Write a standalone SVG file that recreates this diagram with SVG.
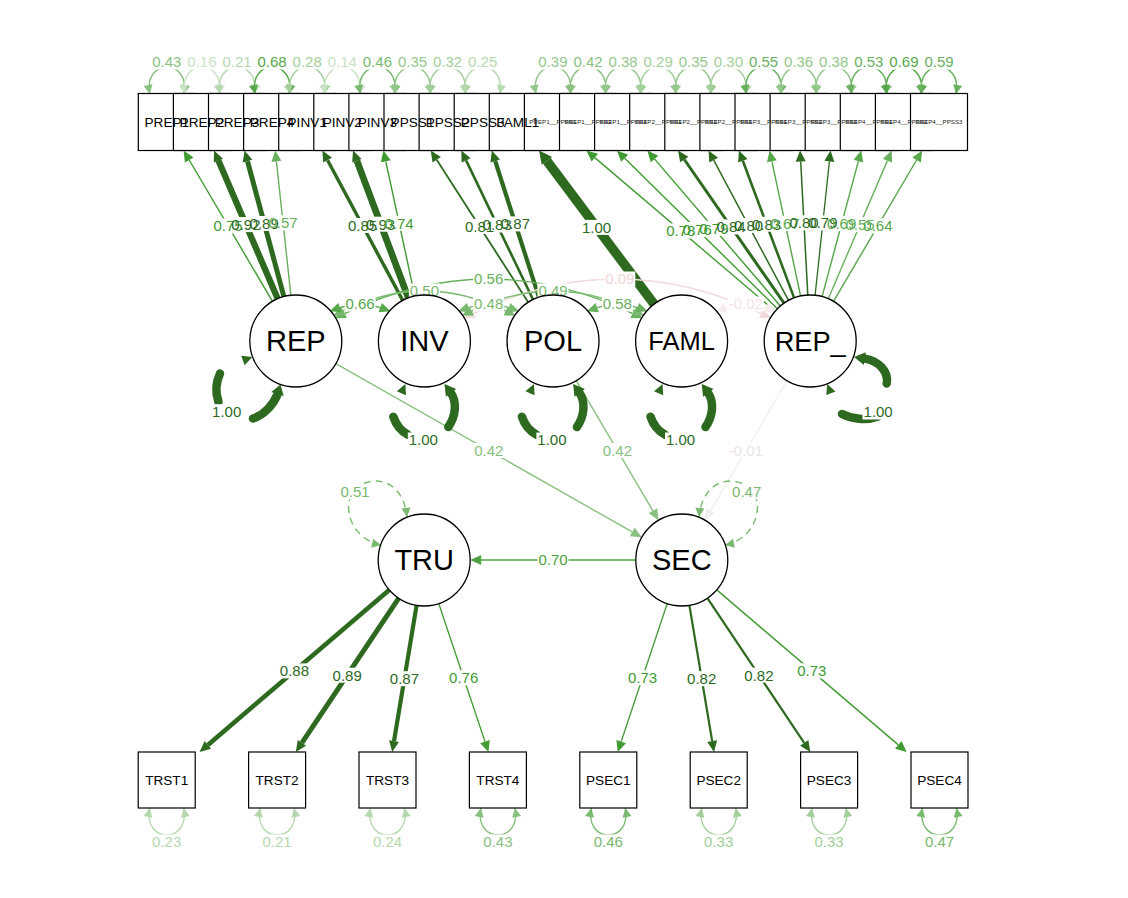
<svg xmlns="http://www.w3.org/2000/svg" width="1128" height="898" viewBox="0 0 1128 898">
<defs>
<style>
text{font-family:"Liberation Sans",Arial,sans-serif}
.e{fill:none;stroke-linecap:butt;stroke-width:1.4}
.lp{fill:none;stroke-linecap:round;stroke-width:8.5;stroke:#2d6a1f}
.dl{fill:none;stroke-width:1.4;stroke-dasharray:7 5}
.el{font-size:15px;text-anchor:middle}
.bg{fill:#fff}
.box{fill:#fff;stroke:#000;stroke-width:1.2}
.lat{fill:#fff;stroke:#000;stroke-width:1.3}
.ml{font-size:13.6px;text-anchor:middle;fill:#000}
.ms{font-size:6.2px;text-anchor:middle;fill:#222}
.ll{font-size:29px;text-anchor:middle;fill:#000}
.sD{stroke:#2d6a1f}.s79{stroke:#409b32}.s70{stroke:#4ea341}.s67{stroke:#55a749}.s56{stroke:#69b05e}.s49{stroke:#79b96f}.s42{stroke:#88c17f}.s37{stroke:#94c78c}.s30{stroke:#a3cf9a}.s23{stroke:#b5d8ae}.s15{stroke:#c9e3c4}.sp9{stroke:#f2dada}.sp2{stroke:#f6ecec}.sp1{stroke:#f3efef}
.fD{fill:#2d6a1f}.f79{fill:#409b32}.f70{fill:#4ea341}.f67{fill:#55a749}.f56{fill:#69b05e}.f49{fill:#79b96f}.f42{fill:#88c17f}.f37{fill:#94c78c}.f30{fill:#a3cf9a}.f23{fill:#b5d8ae}.f15{fill:#c9e3c4}.fp9{fill:#efd6d6}.fp2{fill:#f3e4e4}.fp1{fill:#ebe4e4}
</style>
<marker id="bD" markerUnits="userSpaceOnUse" markerWidth="12" markerHeight="10" refX="0" refY="5" orient="auto-start-reverse" overflow="visible"><path d="M0,0L11,5L0,10z" fill="#2d6a1f"/></marker>
<marker id="bDL" markerUnits="userSpaceOnUse" markerWidth="14" markerHeight="13" refX="0" refY="6.5" orient="auto-start-reverse" overflow="visible"><path d="M0,0L13,6.5L0,13z" fill="#2d6a1f"/></marker>
<marker id="b79" markerUnits="userSpaceOnUse" markerWidth="12" markerHeight="10" refX="0" refY="5" orient="auto-start-reverse" overflow="visible"><path d="M0,0L11,5L0,10z" fill="#409b32"/></marker>
<marker id="b70" markerUnits="userSpaceOnUse" markerWidth="12" markerHeight="10" refX="0" refY="5" orient="auto-start-reverse" overflow="visible"><path d="M0,0L11,5L0,10z" fill="#4ea341"/></marker>
<marker id="b67" markerUnits="userSpaceOnUse" markerWidth="12" markerHeight="10" refX="0" refY="5" orient="auto-start-reverse" overflow="visible"><path d="M0,0L11,5L0,10z" fill="#55a749"/></marker>
<marker id="b56" markerUnits="userSpaceOnUse" markerWidth="12" markerHeight="10" refX="0" refY="5" orient="auto-start-reverse" overflow="visible"><path d="M0,0L11,5L0,10z" fill="#69b05e"/></marker>
<marker id="b49" markerUnits="userSpaceOnUse" markerWidth="12" markerHeight="10" refX="0" refY="5" orient="auto-start-reverse" overflow="visible"><path d="M0,0L11,5L0,10z" fill="#79b96f"/></marker>
<marker id="b42" markerUnits="userSpaceOnUse" markerWidth="12" markerHeight="10" refX="0" refY="5" orient="auto-start-reverse" overflow="visible"><path d="M0,0L11,5L0,10z" fill="#88c17f"/></marker>
<marker id="bp9" markerUnits="userSpaceOnUse" markerWidth="12" markerHeight="10" refX="0" refY="5" orient="auto-start-reverse" overflow="visible"><path d="M0,0L11,5L0,10z" fill="#f2dada"/></marker>
<marker id="bp2" markerUnits="userSpaceOnUse" markerWidth="12" markerHeight="10" refX="0" refY="5" orient="auto-start-reverse" overflow="visible"><path d="M0,0L11,5L0,10z" fill="#f6ecec"/></marker>
<marker id="bp1" markerUnits="userSpaceOnUse" markerWidth="12" markerHeight="10" refX="0" refY="5" orient="auto-start-reverse" overflow="visible"><path d="M0,0L11,5L0,10z" fill="#f3efef"/></marker>
<marker id="t67" markerUnits="userSpaceOnUse" markerWidth="10" markerHeight="9" refX="9" refY="4.5" orient="auto-start-reverse" overflow="visible"><path d="M0,0L9,4.5L0,9z" fill="#55a749"/></marker>
<marker id="t56" markerUnits="userSpaceOnUse" markerWidth="10" markerHeight="9" refX="9" refY="4.5" orient="auto-start-reverse" overflow="visible"><path d="M0,0L9,4.5L0,9z" fill="#69b05e"/></marker>
<marker id="t49" markerUnits="userSpaceOnUse" markerWidth="10" markerHeight="9" refX="9" refY="4.5" orient="auto-start-reverse" overflow="visible"><path d="M0,0L9,4.5L0,9z" fill="#79b96f"/></marker>
<marker id="t42" markerUnits="userSpaceOnUse" markerWidth="10" markerHeight="9" refX="9" refY="4.5" orient="auto-start-reverse" overflow="visible"><path d="M0,0L9,4.5L0,9z" fill="#88c17f"/></marker>
<marker id="t37" markerUnits="userSpaceOnUse" markerWidth="10" markerHeight="9" refX="9" refY="4.5" orient="auto-start-reverse" overflow="visible"><path d="M0,0L9,4.5L0,9z" fill="#94c78c"/></marker>
<marker id="t30" markerUnits="userSpaceOnUse" markerWidth="10" markerHeight="9" refX="9" refY="4.5" orient="auto-start-reverse" overflow="visible"><path d="M0,0L9,4.5L0,9z" fill="#a3cf9a"/></marker>
<marker id="t23" markerUnits="userSpaceOnUse" markerWidth="10" markerHeight="9" refX="9" refY="4.5" orient="auto-start-reverse" overflow="visible"><path d="M0,0L9,4.5L0,9z" fill="#b5d8ae"/></marker>
<marker id="t15" markerUnits="userSpaceOnUse" markerWidth="10" markerHeight="9" refX="9" refY="4.5" orient="auto-start-reverse" overflow="visible"><path d="M0,0L9,4.5L0,9z" fill="#c9e3c4"/></marker>
</defs>
<rect width="1128" height="898" fill="#fff"/>

<g id="connectors">
<path class="e s79" d="M272.5,301.4L189.2,160" marker-end="url(#b79)"/>
<path class="e sD" style="stroke-width:6.3" d="M277.7,298.7L218.4,160.6" marker-end="url(#bD)"/>
<path class="e sD" style="stroke-width:5" d="M283.9,296.6L247.5,161.1" marker-end="url(#bD)"/>
<path class="e s56" d="M290.9,295.3L276.4,161.4" marker-end="url(#b56)"/>
<path class="e sD" style="stroke-width:3.4" d="M402.7,300.4L327.6,160.2" marker-end="url(#bD)"/>
<path class="e sD" style="stroke-width:6.7" d="M408.3,297.9L356.9,160.8" marker-end="url(#bD)"/>
<path class="e s79" d="M414.8,296L385.8,161.3" marker-end="url(#b79)"/>
<path class="e sD" style="stroke-width:1.8" d="M528.2,302.3L436.7,159.8" marker-end="url(#bD)"/>
<path class="e sD" style="stroke-width:2.6" d="M533,299.5L466.1,160.4" marker-end="url(#bD)"/>
<path class="e sD" style="stroke-width:4.2" d="M538.9,297.2L495.2,161" marker-end="url(#bD)"/>
<path class="e sD" style="stroke-width:9.5" d="M654.1,304.2L546.9,160.9" marker-end="url(#bDL)"/>
<path class="e s79" d="M775.2,311.2L594.8,157.6" marker-end="url(#b79)"/>
<path class="e s79" d="M777.4,308.7L624.7,158.2" marker-end="url(#b79)"/>
<path class="e s79" d="M780.3,306L654.5,158.9" marker-end="url(#b79)"/>
<path class="e sD" style="stroke-width:3" d="M784,303.2L684.3,159.5" marker-end="url(#bD)"/>
<path class="e sD" style="stroke-width:1.5" d="M788.5,300.4L713.7,160.2" marker-end="url(#bD)"/>
<path class="e sD" style="stroke-width:2.6" d="M794.1,297.9L742.8,160.8" marker-end="url(#bD)"/>
<path class="e s67" d="M800.6,296L771.9,161.3" marker-end="url(#b67)"/>
<path class="e sD" style="stroke-width:1.5" d="M807.8,295.1L800.7,161.5" marker-end="url(#bD)"/>
<path class="e sD" style="stroke-width:1.3" d="M815.1,295.3L829.4,161.4" marker-end="url(#bD)"/>
<path class="e s67" d="M822.1,296.6L858.4,161.1" marker-end="url(#b67)"/>
<path class="e s56" d="M828.3,298.7L887.4,160.6" marker-end="url(#b56)"/>
<path class="e s67" d="M833.5,301.4L916.6,160" marker-end="url(#b67)"/>
<path class="e sD" style="stroke-width:4.6" d="M389.2,589.9L207.9,744.9" marker-end="url(#bD)"/>
<path class="e sD" style="stroke-width:5" d="M398.6,598.3L301.9,742.9" marker-end="url(#bD)"/>
<path class="e sD" style="stroke-width:4.2" d="M416.6,605.4L394,741.1" marker-end="url(#bD)"/>
<path class="e s79" d="M438.8,603.6L485,741.6" marker-end="url(#b79)"/>
<path class="e s79" d="M667.2,603.6L621.2,741.6" marker-end="url(#b79)"/>
<path class="e sD" style="stroke-width:2.2" d="M689.4,605.4L712.2,741.2" marker-end="url(#bD)"/>
<path class="e sD" style="stroke-width:2.2" d="M707.4,598.2L804.2,742.9" marker-end="url(#bD)"/>
<path class="e s79" d="M716.8,589.9L898.3,744.9" marker-end="url(#b79)"/>
<path class="e s42" d="M335.8,363.7L632.2,531.9" marker-end="url(#b42)"/>
<path class="e s42" d="M576.3,380.7L652.9,510.8" marker-end="url(#b42)"/>
<path class="e sp1" d="M787,380.7L710.6,510.8" marker-end="url(#bp1)"/>
<path class="e s70" style="stroke-width:1.5" d="M635.8,560L481.2,560" marker-end="url(#b70)"/>
<path class="e sp9" d="M473.4,313.5Q617.3,244.5 761.2,313.5" marker-start="url(#bp9)" marker-end="url(#bp9)"/>
<path class="e s56" d="M344.8,313.5Q488.7,244.5 632.6,313.5" marker-start="url(#b56)" marker-end="url(#b56)"/>
<path class="e s49" d="M343.1,311Q424.4,271 505.7,311" marker-start="url(#b49)" marker-end="url(#b49)"/>
<path class="e s49" d="M471.7,311Q553,271 634.3,311" marker-start="url(#b49)" marker-end="url(#b49)"/>
<path class="e s67" d="M340,307.6Q360.1,300.4 380.2,307.6" marker-start="url(#b67)" marker-end="url(#b67)"/>
<path class="e s49" d="M468.6,307.6Q488.7,300.4 508.8,307.6" marker-start="url(#b49)" marker-end="url(#b49)"/>
<path class="e s56" d="M597.2,307.6Q617.3,300.4 637.4,307.6" marker-start="url(#b56)" marker-end="url(#b56)"/>
<path class="e sp2" d="M725.8,307.6Q745.9,300.4 766,307.6" marker-start="url(#bp2)" marker-end="url(#bp2)"/>
<g id="var-REP">
<path class="lp" d="M220,373.5Q213.5,387.5 218.5,402"/>
<path class="lp" d="M253,418.5C264,415 273,405 277.5,394.5"/>
<polygon class="fD" points="252.3,357 244.6,365.2 241.2,355.8"/>
<polygon class="fD" points="280.5,384.5 283.7,396 271.3,392"/>
</g>
<g id="var-INV">
<path class="lp" d="M393.3,416.7Q397.5,429.5 408.3,435"/>
<path class="lp" d="M448.3,427C456,416 457,402 451,393"/>
<polygon class="fD" points="405.4,384 406,395.2 396.8,391.2"/>
<polygon class="fD" points="444.5,384 456.3,388.9 445.9,396.7"/>
</g>
<g id="var-POL" transform="translate(128.6,0)">
<path class="lp" d="M393.3,416.7Q397.5,429.5 408.3,435"/>
<path class="lp" d="M448.3,427C456,416 457,402 451,393"/>
<polygon class="fD" points="405.4,384 406,395.2 396.8,391.2"/>
<polygon class="fD" points="444.5,384 456.3,388.9 445.9,396.7"/>
</g>
<g id="var-FAML" transform="translate(257.2,0)">
<path class="lp" d="M393.3,416.7Q397.5,429.5 408.3,435"/>
<path class="lp" d="M448.3,427C456,416 457,402 451,393"/>
<polygon class="fD" points="405.4,384 406,395.2 396.8,391.2"/>
<polygon class="fD" points="444.5,384 456.3,388.9 445.9,396.7"/>
</g>
<g id="var-REP_">
<path class="lp" d="M842,414C852,419 866,421 878,416.5"/>
<path class="lp" d="M886.7,383.5C889,372 879,361 865,358.6"/>
<polygon class="fD" points="827.2,384 835.5,391.5 826.3,395.1"/>
<polygon class="fD" points="854,357 865.9,352.2 863.9,365"/>
</g>
<path class="dl s49" d="M381,545C345,538 338,492 365,483C385,476 404,488 407,517" marker-start="url(#t49)" marker-end="url(#t49)"/>
<path class="dl s49" d="M725,545C761,538 768,492 741,483C721,476 702,488 699,517" marker-start="url(#t49)" marker-end="url(#t49)"/>
<path class="e s42" d="M149.8,94C142.8,58 190.8,58 183.8,94" marker-start="url(#t42)" marker-end="url(#t42)"/>
<path class="e s15" d="M184.9,94C177.9,58 225.9,58 218.9,94" marker-start="url(#t15)" marker-end="url(#t15)"/>
<path class="e s23" d="M220,94C213,58 261,58 254,94" marker-start="url(#t23)" marker-end="url(#t23)"/>
<path class="e s67" d="M255.1,94C248.1,58 296.1,58 289.1,94" marker-start="url(#t67)" marker-end="url(#t67)"/>
<path class="e s30" d="M290.2,94C283.2,58 331.2,58 324.2,94" marker-start="url(#t30)" marker-end="url(#t30)"/>
<path class="e s15" d="M325.3,94C318.3,58 366.3,58 359.3,94" marker-start="url(#t15)" marker-end="url(#t15)"/>
<path class="e s49" d="M360.4,94C353.4,58 401.4,58 394.4,94" marker-start="url(#t49)" marker-end="url(#t49)"/>
<path class="e s37" d="M395.5,94C388.5,58 436.5,58 429.5,94" marker-start="url(#t37)" marker-end="url(#t37)"/>
<path class="e s30" d="M430.6,94C423.6,58 471.6,58 464.6,94" marker-start="url(#t30)" marker-end="url(#t30)"/>
<path class="e s23" d="M465.7,94C458.7,58 506.7,58 499.7,94" marker-start="url(#t23)" marker-end="url(#t23)"/>
<path class="e s37" d="M535.9,94C528.9,58 576.9,58 569.9,94" marker-start="url(#t37)" marker-end="url(#t37)"/>
<path class="e s42" d="M571,94C564,58 612,58 605,94" marker-start="url(#t42)" marker-end="url(#t42)"/>
<path class="e s37" d="M606.1,94C599.1,58 647.1,58 640.1,94" marker-start="url(#t37)" marker-end="url(#t37)"/>
<path class="e s30" d="M641.2,94C634.2,58 682.2,58 675.2,94" marker-start="url(#t30)" marker-end="url(#t30)"/>
<path class="e s37" d="M676.3,94C669.3,58 717.3,58 710.3,94" marker-start="url(#t37)" marker-end="url(#t37)"/>
<path class="e s30" d="M711.4,94C704.4,58 752.4,58 745.4,94" marker-start="url(#t30)" marker-end="url(#t30)"/>
<path class="e s56" d="M746.5,94C739.5,58 787.5,58 780.5,94" marker-start="url(#t56)" marker-end="url(#t56)"/>
<path class="e s37" d="M781.6,94C774.6,58 822.6,58 815.6,94" marker-start="url(#t37)" marker-end="url(#t37)"/>
<path class="e s37" d="M816.7,94C809.7,58 857.7,58 850.7,94" marker-start="url(#t37)" marker-end="url(#t37)"/>
<path class="e s56" d="M851.8,94C844.8,58 892.8,58 885.8,94" marker-start="url(#t56)" marker-end="url(#t56)"/>
<path class="e s67" d="M886.9,94C879.9,58 927.9,58 920.9,94" marker-start="url(#t67)" marker-end="url(#t67)"/>
<path class="e s56" d="M922,94C915,58 963,58 956,94" marker-start="url(#t56)" marker-end="url(#t56)"/>
<path class="e s23" d="M149.7,808C142.7,844 190.7,844 183.7,808" marker-start="url(#t23)" marker-end="url(#t23)"/>
<path class="e s23" d="M260.1,808C253.1,844 301.1,844 294.1,808" marker-start="url(#t23)" marker-end="url(#t23)"/>
<path class="e s23" d="M370.5,808C363.5,844 411.5,844 404.5,808" marker-start="url(#t23)" marker-end="url(#t23)"/>
<path class="e s42" d="M480.9,808C473.9,844 521.9,844 514.9,808" marker-start="url(#t42)" marker-end="url(#t42)"/>
<path class="e s49" d="M591.3,808C584.3,844 632.3,844 625.3,808" marker-start="url(#t49)" marker-end="url(#t49)"/>
<path class="e s30" d="M701.7,808C694.7,844 742.7,844 735.7,808" marker-start="url(#t30)" marker-end="url(#t30)"/>
<path class="e s30" d="M812.1,808C805.1,844 853.1,844 846.1,808" marker-start="url(#t30)" marker-end="url(#t30)"/>
<path class="e s49" d="M922.5,808C915.5,844 963.5,844 956.5,808" marker-start="url(#t49)" marker-end="url(#t49)"/>
</g>

<g id="edge-label-bg" class="bg">
<rect x="212.5" y="218.5" width="31" height="15"/><rect x="230.4" y="217.1" width="31" height="15"/><rect x="248.7" y="216" width="31" height="15"/><rect x="267.5" y="215.4" width="31" height="15"/>
<rect x="347.1" y="218" width="31" height="15"/><rect x="365.1" y="216.7" width="31" height="15"/><rect x="383.6" y="215.8" width="31" height="15"/>
<rect x="464" y="218.9" width="31" height="15"/><rect x="481.7" y="217.5" width="31" height="15"/><rect x="499.9" y="216.4" width="31" height="15"/>
<rect x="581.1" y="219.9" width="31" height="15"/>
<rect x="665.3" y="223.4" width="31" height="15"/><rect x="681.7" y="222.1" width="31" height="15"/><rect x="698.4" y="220.8" width="31" height="15"/><rect x="715.5" y="219.4" width="31" height="15"/><rect x="733" y="218" width="31" height="15"/><rect x="751.1" y="216.7" width="31" height="15"/><rect x="769.6" y="215.8" width="31" height="15"/><rect x="788.5" y="215.3" width="31" height="15"/><rect x="807.4" y="215.4" width="31" height="15"/><rect x="826.2" y="216.1" width="31" height="15"/><rect x="844.5" y="217.1" width="31" height="15"/><rect x="862.4" y="218.5" width="31" height="15"/>
<rect x="278.9" y="663.4" width="31" height="15"/><rect x="331.7" y="667.7" width="31" height="15"/><rect x="388.9" y="671.2" width="31" height="15"/><rect x="448.2" y="670.3" width="31" height="15"/><rect x="627" y="670.3" width="31" height="15"/><rect x="686.2" y="671.2" width="31" height="15"/><rect x="743.4" y="667.6" width="31" height="15"/><rect x="796.3" y="663.4" width="31" height="15"/>
<rect x="473.3" y="443" width="31" height="15"/><rect x="601.9" y="443" width="31" height="15"/><rect x="727.9" y="443" width="36" height="15"/><rect x="537.5" y="552.5" width="31" height="15"/>
<rect x="344.6" y="296.5" width="31" height="15"/><rect x="473.2" y="296.5" width="31" height="15"/><rect x="601.8" y="296.5" width="31" height="15"/><rect x="727.9" y="296.5" width="36" height="15"/>
<rect x="408.9" y="283.5" width="31" height="15"/><rect x="537.5" y="283.5" width="31" height="15"/><rect x="473.2" y="271.5" width="31" height="15"/><rect x="599.3" y="271.5" width="36" height="15"/>
<rect x="211.2" y="404.2" width="31" height="15"/><rect x="407.8" y="432.5" width="31" height="15"/><rect x="536.4" y="432.5" width="31" height="15"/><rect x="665" y="432.5" width="31" height="15"/><rect x="862.5" y="404.5" width="31" height="15"/>
<rect x="339.5" y="484.2" width="31" height="15"/><rect x="731.2" y="484.2" width="31" height="15"/>
<rect x="151.3" y="54.5" width="31" height="15"/><rect x="186.4" y="54.5" width="31" height="15"/><rect x="221.5" y="54.5" width="31" height="15"/><rect x="256.6" y="54.5" width="31" height="15"/><rect x="291.7" y="54.5" width="31" height="15"/><rect x="326.8" y="54.5" width="31" height="15"/><rect x="361.9" y="54.5" width="31" height="15"/><rect x="397" y="54.5" width="31" height="15"/><rect x="432.1" y="54.5" width="31" height="15"/><rect x="467.2" y="54.5" width="31" height="15"/>
<rect x="537.4" y="54.5" width="31" height="15"/><rect x="572.5" y="54.5" width="31" height="15"/><rect x="607.6" y="54.5" width="31" height="15"/><rect x="642.7" y="54.5" width="31" height="15"/><rect x="677.8" y="54.5" width="31" height="15"/><rect x="712.9" y="54.5" width="31" height="15"/><rect x="748" y="54.5" width="31" height="15"/><rect x="783.1" y="54.5" width="31" height="15"/><rect x="818.2" y="54.5" width="31" height="15"/><rect x="853.3" y="54.5" width="31" height="15"/><rect x="888.4" y="54.5" width="31" height="15"/><rect x="923.5" y="54.5" width="31" height="15"/>
<rect x="151.2" y="834.5" width="31" height="15"/><rect x="261.6" y="834.5" width="31" height="15"/><rect x="372" y="834.5" width="31" height="15"/><rect x="482.4" y="834.5" width="31" height="15"/><rect x="592.8" y="834.5" width="31" height="15"/><rect x="703.2" y="834.5" width="31" height="15"/><rect x="813.6" y="834.5" width="31" height="15"/><rect x="924" y="834.5" width="31" height="15"/>
</g>

<g id="edge-labels" class="el">
<text class="f79" x="228" y="231.4">0.75</text><text class="fD" x="245.9" y="230">0.92</text><text class="fD" x="264.2" y="228.9">0.89</text><text class="f56" x="283" y="228.3">0.57</text>
<text class="fD" x="362.6" y="230.9">0.85</text><text class="fD" x="380.6" y="229.6">0.93</text><text class="f79" x="399.1" y="228.7">0.74</text>
<text class="fD" x="479.5" y="231.8">0.81</text><text class="fD" x="497.2" y="230.4">0.83</text><text class="fD" x="515.4" y="229.3">0.87</text>
<text class="fD" x="596.6" y="232.8">1.00</text>
<text class="f79" x="680.8" y="236.3">0.78</text><text class="f79" x="697.2" y="235">0.76</text><text class="f79" x="713.9" y="233.7">0.79</text><text class="fD" x="731" y="232.3">0.84</text><text class="fD" x="748.5" y="230.9">0.80</text><text class="fD" x="766.6" y="229.6">0.83</text><text class="f67" x="785.1" y="228.7">0.67</text><text class="fD" x="804" y="228.2">0.80</text><text class="fD" x="822.9" y="228.3">0.79</text><text class="f67" x="841.7" y="229">0.69</text><text class="f56" x="860" y="230">0.55</text><text class="f67" x="877.9" y="231.4">0.64</text>
<text class="fD" x="294.4" y="676.3">0.88</text><text class="fD" x="347.2" y="680.6">0.89</text><text class="fD" x="404.4" y="684.1">0.87</text><text class="f79" x="463.7" y="683.2">0.76</text><text class="f79" x="642.5" y="683.2">0.73</text><text class="fD" x="701.7" y="684.1">0.82</text><text class="fD" x="758.9" y="680.5">0.82</text><text class="f79" x="811.8" y="676.3">0.73</text>
<text class="f42" x="488.8" y="455.9">0.42</text><text class="f42" x="617.4" y="455.9">0.42</text><text class="fp1" x="745.9" y="455.9">-0.01</text><text class="f70" x="553" y="565.4">0.70</text>
<text class="f67" x="360.1" y="309.4">0.66</text><text class="f49" x="488.7" y="309.4">0.48</text><text class="f56" x="617.3" y="309.4">0.58</text><text class="fp2" x="745.9" y="309.4">-0.02</text>
<text class="f49" x="424.4" y="296.4">0.50</text><text class="f49" x="553" y="296.4">0.49</text><text class="f56" x="488.7" y="284.4">0.56</text><text class="fp9" x="617.3" y="284.4">-0.09</text>
<text class="fD" x="226.7" y="417.1">1.00</text><text class="fD" x="423.3" y="445.4">1.00</text><text class="fD" x="551.9" y="445.4">1.00</text><text class="fD" x="680.5" y="445.4">1.00</text><text class="fD" x="878" y="417.4">1.00</text>
<text class="f49" x="355" y="497.1">0.51</text><text class="f49" x="746.7" y="497.1">0.47</text>
<text class="f42" x="166.8" y="67.4">0.43</text><text class="f15" x="201.9" y="67.4">0.16</text><text class="f23" x="237" y="67.4">0.21</text><text class="f67" x="272.1" y="67.4">0.68</text><text class="f30" x="307.2" y="67.4">0.28</text><text class="f15" x="342.3" y="67.4">0.14</text><text class="f49" x="377.4" y="67.4">0.46</text><text class="f37" x="412.5" y="67.4">0.35</text><text class="f30" x="447.6" y="67.4">0.32</text><text class="f23" x="482.7" y="67.4">0.25</text>
<text class="f37" x="552.9" y="67.4">0.39</text><text class="f42" x="588" y="67.4">0.42</text><text class="f37" x="623.1" y="67.4">0.38</text><text class="f30" x="658.2" y="67.4">0.29</text><text class="f37" x="693.3" y="67.4">0.35</text><text class="f30" x="728.4" y="67.4">0.30</text><text class="f56" x="763.5" y="67.4">0.55</text><text class="f37" x="798.6" y="67.4">0.36</text><text class="f37" x="833.7" y="67.4">0.38</text><text class="f56" x="868.8" y="67.4">0.53</text><text class="f67" x="903.9" y="67.4">0.69</text><text class="f56" x="939" y="67.4">0.59</text>
<text class="f23" x="166.7" y="847.4">0.23</text><text class="f23" x="277.1" y="847.4">0.21</text><text class="f23" x="387.5" y="847.4">0.24</text><text class="f42" x="497.9" y="847.4">0.43</text><text class="f49" x="608.3" y="847.4">0.46</text><text class="f30" x="718.7" y="847.4">0.33</text><text class="f30" x="829.1" y="847.4">0.33</text><text class="f49" x="939.5" y="847.4">0.47</text>
</g>

<g id="node-REP"><circle class="lat" cx="295.8" cy="341" r="46"/><text class="ll" x="295.8" y="351.4">REP</text></g>
<g id="node-INV"><circle class="lat" cx="424.4" cy="341" r="46"/><text class="ll" x="424.4" y="351.4">INV</text></g>
<g id="node-POL"><circle class="lat" cx="553" cy="341" r="46"/><text class="ll" x="553" y="351.4">POL</text></g>
<g id="node-FAML"><circle class="lat" cx="681.6" cy="341" r="46"/><text class="ll" style="font-size:25.5px" x="681.6" y="350.1">FAML</text></g>
<g id="node-REP_"><circle class="lat" cx="810.2" cy="341" r="46"/><text class="ll" style="font-size:27.2px" x="810.2" y="350.7">REP_</text></g>
<g id="node-TRU"><circle class="lat" cx="424.2" cy="560" r="46"/><text class="ll" x="424.2" y="570.4">TRU</text></g>
<g id="node-SEC"><circle class="lat" cx="681.8" cy="560" r="46"/><text class="ll" x="681.8" y="570.4">SEC</text></g>

<g id="node-PREP1"><rect class="box" x="138.3" y="93.5" width="57" height="57"/></g>
<g id="node-PREP2"><rect class="box" x="173.4" y="93.5" width="57" height="57"/></g>
<g id="node-PREP3"><rect class="box" x="208.5" y="93.5" width="57" height="57"/></g>
<g id="node-PREP4"><rect class="box" x="243.6" y="93.5" width="57" height="57"/></g>
<g id="node-PINV1"><rect class="box" x="278.7" y="93.5" width="57" height="57"/></g>
<g id="node-PINV2"><rect class="box" x="313.8" y="93.5" width="57" height="57"/></g>
<g id="node-PINV3"><rect class="box" x="348.9" y="93.5" width="57" height="57"/></g>
<g id="node-PPSS1"><rect class="box" x="384" y="93.5" width="57" height="57"/></g>
<g id="node-PPSS2"><rect class="box" x="419.1" y="93.5" width="57" height="57"/></g>
<g id="node-PPSS3"><rect class="box" x="454.2" y="93.5" width="57" height="57"/></g>
<g id="node-FAML1"><rect class="box" x="489.3" y="93.5" width="57" height="57"/></g>
<g id="node-PREP1__PPSS1"><rect class="box" x="524.4" y="93.5" width="57" height="57"/></g>
<g id="node-PREP1__PPSS2"><rect class="box" x="559.5" y="93.5" width="57" height="57"/></g>
<g id="node-PREP1__PPSS3"><rect class="box" x="594.6" y="93.5" width="57" height="57"/></g>
<g id="node-PREP2__PPSS1"><rect class="box" x="629.7" y="93.5" width="57" height="57"/></g>
<g id="node-PREP2__PPSS2"><rect class="box" x="664.8" y="93.5" width="57" height="57"/></g>
<g id="node-PREP2__PPSS3"><rect class="box" x="699.9" y="93.5" width="57" height="57"/></g>
<g id="node-PREP3__PPSS1"><rect class="box" x="735" y="93.5" width="57" height="57"/></g>
<g id="node-PREP3__PPSS2"><rect class="box" x="770.1" y="93.5" width="57" height="57"/></g>
<g id="node-PREP3__PPSS3"><rect class="box" x="805.2" y="93.5" width="57" height="57"/></g>
<g id="node-PREP4__PPSS1"><rect class="box" x="840.3" y="93.5" width="57" height="57"/></g>
<g id="node-PREP4__PPSS2"><rect class="box" x="875.4" y="93.5" width="57" height="57"/></g>
<g id="node-PREP4__PPSS3"><rect class="box" x="910.5" y="93.5" width="57" height="57"/></g>
<g id="top-labels">
<text class="ml" x="166.8" y="126.9">PREP1</text><text class="ml" x="201.9" y="126.9">PREP2</text><text class="ml" x="237" y="126.9">PREP3</text><text class="ml" x="272.1" y="126.9">PREP4</text><text class="ml" x="307.2" y="126.9">PINV1</text><text class="ml" x="342.3" y="126.9">PINV2</text><text class="ml" x="377.4" y="126.9">PINV3</text><text class="ml" x="412.5" y="126.9">PPSS1</text><text class="ml" x="447.6" y="126.9">PPSS2</text><text class="ml" x="482.7" y="126.9">PPSS3</text><text class="ml" x="517.8" y="126.9">FAML1</text>
<text class="ms" x="552.9" y="124.2">PREP1__PPSS1</text><text class="ms" x="588" y="124.2">PREP1__PPSS2</text><text class="ms" x="623.1" y="124.2">PREP1__PPSS3</text><text class="ms" x="658.2" y="124.2">PREP2__PPSS1</text><text class="ms" x="693.3" y="124.2">PREP2__PPSS2</text><text class="ms" x="728.4" y="124.2">PREP2__PPSS3</text><text class="ms" x="763.5" y="124.2">PREP3__PPSS1</text><text class="ms" x="798.6" y="124.2">PREP3__PPSS2</text><text class="ms" x="833.7" y="124.2">PREP3__PPSS3</text><text class="ms" x="868.8" y="124.2">PREP4__PPSS1</text><text class="ms" x="903.9" y="124.2">PREP4__PPSS2</text><text class="ms" x="939" y="124.2">PREP4__PPSS3</text>
</g>

<g id="node-TRST1"><rect class="box" x="138.2" y="752" width="57" height="56"/><text class="ml" x="166.7" y="784.9">TRST1</text></g>
<g id="node-TRST2"><rect class="box" x="248.6" y="752" width="57" height="56"/><text class="ml" x="277.1" y="784.9">TRST2</text></g>
<g id="node-TRST3"><rect class="box" x="359" y="752" width="57" height="56"/><text class="ml" x="387.5" y="784.9">TRST3</text></g>
<g id="node-TRST4"><rect class="box" x="469.4" y="752" width="57" height="56"/><text class="ml" x="497.9" y="784.9">TRST4</text></g>
<g id="node-PSEC1"><rect class="box" x="579.8" y="752" width="57" height="56"/><text class="ml" x="608.3" y="784.9">PSEC1</text></g>
<g id="node-PSEC2"><rect class="box" x="690.2" y="752" width="57" height="56"/><text class="ml" x="718.7" y="784.9">PSEC2</text></g>
<g id="node-PSEC3"><rect class="box" x="800.6" y="752" width="57" height="56"/><text class="ml" x="829.1" y="784.9">PSEC3</text></g>
<g id="node-PSEC4"><rect class="box" x="911" y="752" width="57" height="56"/><text class="ml" x="939.5" y="784.9">PSEC4</text></g>
</svg>
